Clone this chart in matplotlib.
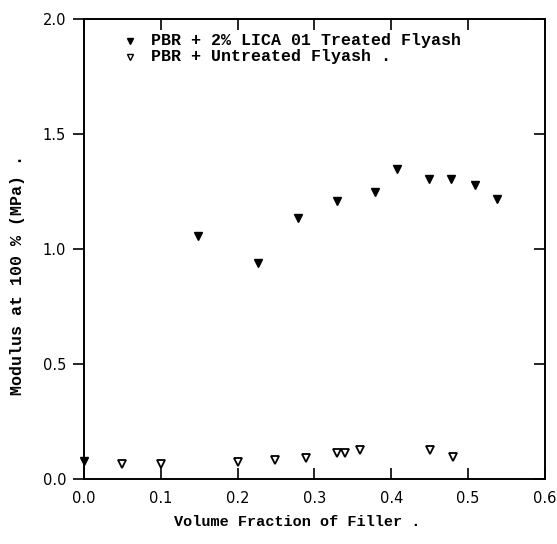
import matplotlib
matplotlib.use('Agg')
import matplotlib.pyplot as plt

# PBR + 2% LICA 01 treated flyash
treated_x = [0.0, 0.148, 0.227, 0.278, 0.330, 0.379, 0.408, 0.449, 0.478, 0.509, 0.538]
treated_y = [0.075, 1.057, 0.938, 1.136, 1.21, 1.248, 1.349, 1.306, 1.306, 1.278, 1.216]

# PBR + untreated flyash
untreated_x = [0.049, 0.100, 0.200, 0.249, 0.289, 0.330, 0.340, 0.360, 0.451, 0.480]
untreated_y = [0.064, 0.064, 0.072, 0.080, 0.090, 0.110, 0.110, 0.125, 0.125, 0.093]

x_ticks = [0.0, 0.1, 0.2, 0.3, 0.4, 0.5, 0.6]
y_ticks = [0.0, 0.5, 1.0, 1.5, 2.0]

label_font = dict(family='Liberation Mono', weight='bold', size=11)
ylabel_font = dict(family='Liberation Mono', weight='bold', size=12)
legend_font = dict(family='Liberation Mono', weight='bold', size=12)

fig = plt.figure(figsize=(5.57, 5.44), dpi=100)
ax = fig.add_axes([0.151, 0.12, 0.827, 0.845])

ax.plot(treated_x, treated_y, linestyle='none', marker='v', markersize=6,
        color='black', clip_on=False)
ax.plot(untreated_x, untreated_y, linestyle='none', marker='v', markersize=6,
        markerfacecolor='white', markeredgecolor='black', markeredgewidth=1.3)

ax.set_xlim(0, 0.6)
ax.set_ylim(0, 2.0)
ax.set_xticks(x_ticks)
ax.set_yticks(y_ticks)
ax.set_xticklabels([f'{t:.1f}' for t in x_ticks])
ax.set_yticklabels([f'{t:.1f}' for t in y_ticks])

ax.tick_params(axis='x', direction='in', top=True, length=8, width=1.2,
               labelsize=10.5, pad=9)
ax.tick_params(axis='y', direction='out', length=8, width=1.2,
               labelsize=10.5, pad=5)
ax.tick_params(axis='y', which='major', right=True)
for t in ax.yaxis.get_major_ticks():
    t.tick2line.set_marker(matplotlib.lines.TICKLEFT)

for s in ax.spines.values():
    s.set_linewidth(1.4)

ax.set_xlabel('Volume Fraction of Filler .', fontdict=label_font)
ax.set_ylabel('Modulus at 100 % (MPa) .', fontdict=ylabel_font)
ax.xaxis.set_label_coords(0.463, -0.08)
ax.yaxis.set_label_coords(-0.128, 0.443)

# legend drawn as text, like the original
ax.plot([0.060], [1.905], marker='v', markersize=5, color='black')
ax.plot([0.060], [1.835], marker='v', markersize=5, markerfacecolor='white',
        markeredgecolor='black', markeredgewidth=1)
ax.text(0.087, 1.905, 'PBR + 2% LICA 01 Treated Flyash', fontdict=legend_font,
        va='center')
ax.text(0.087, 1.835, 'PBR + Untreated Flyash .', fontdict=legend_font,
        va='center')

fig.savefig('out.png', dpi=100)
